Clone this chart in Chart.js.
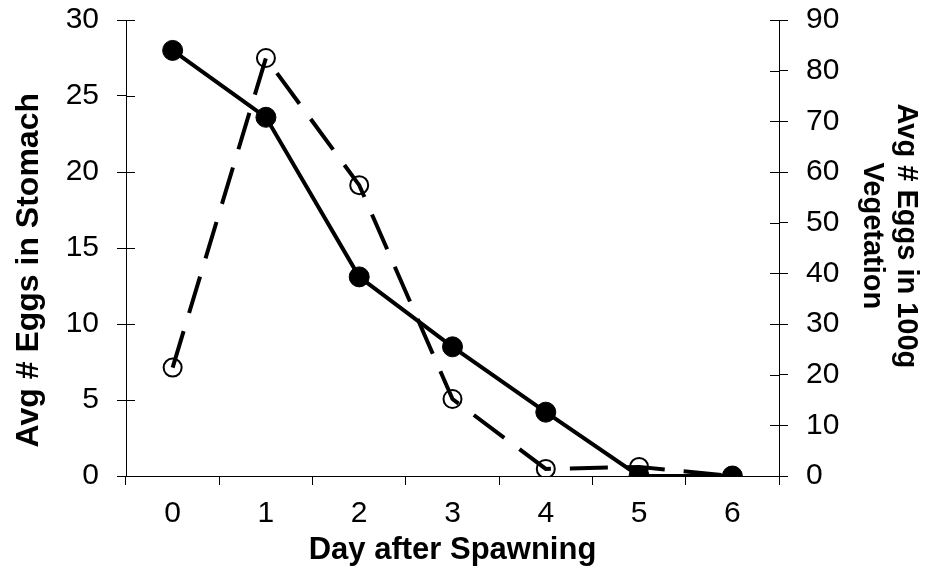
<!DOCTYPE html>
<html>
<head>
<meta charset="utf-8">
<script src="https://cdn.jsdelivr.net/npm/chart.js@4"></script>
<style>
  html, body { margin: 0; padding: 0; background: #fff; }
  canvas { display: block; }
</style>
</head>
<body>
<canvas id="eggChart" width="930" height="571"></canvas>
<script>
// data
const days = ['0', '1', '2', '3', '4', '5', '6'];
const eggsStomach = [28, 23.6, 13.1, 8.5, 4.2, 0, 0];
const eggsVegetation = [21.4, 82.5, 57.4, 15.2, 1.4, 1.8, 0];
const stomachTicks = [0, 5, 10, 15, 20, 25, 30];
const vegetationTicks = [0, 10, 20, 30, 40, 50, 60, 70, 80, 90];

const FONT = 'Liberation Sans, Arial, sans-serif';

// tick marks cross the y axes (Chart.js only draws the outer half)
const innerTicks = {
  id: 'innerTicks',
  beforeDatasetsDraw(chart) {
    const ctx = chart.ctx;
    const area = chart.chartArea;
    ctx.save();
    ctx.strokeStyle = '#000';
    ctx.lineWidth = 1;
    ctx.beginPath();
    chart.scales.y.ticks.forEach(t => {
      const y = Math.round(chart.scales.y.getPixelForValue(t.value)) + 0.5;
      ctx.moveTo(area.left, y);
      ctx.lineTo(area.left + 9, y);
    });
    chart.scales.y1.ticks.forEach(t => {
      const y = Math.round(chart.scales.y1.getPixelForValue(t.value)) + 0.5;
      ctx.moveTo(area.right - 9, y);
      ctx.lineTo(area.right, y);
    });
    ctx.stroke();
    ctx.restore();
  }
};

const ctx = document.getElementById('eggChart').getContext('2d');
new Chart(ctx, {
  type: 'line',
  data: {
    labels: days,
    datasets: [{
      label: 'Stomach',
      data: eggsStomach,
      yAxisID: 'y',
      borderColor: '#000',
      borderWidth: 4,
      backgroundColor: '#000',
      pointRadius: 10,
      pointBackgroundColor: '#000',
      pointBorderColor: '#000',
      pointBorderWidth: 1,
      tension: 0
    }, {
      label: 'Vegetation',
      data: eggsVegetation,
      yAxisID: 'y1',
      borderColor: '#000',
      borderWidth: 4,
      borderDash: [38, 19],
      backgroundColor: 'transparent',
      pointRadius: 9,
      pointBackgroundColor: 'transparent',
      pointBorderColor: '#000',
      pointBorderWidth: 2,
      tension: 0
    }]
  },
  options: {
    responsive: false,
    animation: false,
    layout: { padding: { top: 20, left: 0, right: 0, bottom: 0 } },
    plugins: { legend: { display: false }, tooltip: { enabled: false } },
    scales: {
      x: {
        offset: true,
        grid: { offset: true, drawOnChartArea: false, tickLength: 9, color: '#000' },
        border: { display: true, color: '#000', width: 1 },
        ticks: { color: '#000', padding: 11, font: { family: FONT, size: 30 } },
        title: {
          display: true,
          text: 'Day after Spawning',
          color: '#000',
          padding: { top: 0, bottom: 2 },
          font: { family: FONT, size: 31, weight: 'bold', lineHeight: 1.2 }
        },
        afterFit(scale) { scale.height = 95; }
      },
      y: {
        position: 'left',
        min: 0,
        max: 30,
        afterBuildTicks(scale) { scale.ticks = stomachTicks.map(v => ({ value: v })); },
        grid: { drawOnChartArea: false, tickLength: 9, color: '#000' },
        border: { display: true, color: '#000', width: 1 },
        ticks: { color: '#000', padding: 18, font: { family: FONT, size: 30 } },
        title: {
          display: true,
          // trailing spaces push the title down, as in the original
          text: 'Avg # Eggs in Stomach     ',
          color: '#000',
          padding: { top: 10, bottom: 0 },
          font: { family: FONT, size: 32, weight: 'bold', lineHeight: 1.2 }
        },
        afterFit(scale) {
          scale.width = 126;
          scale.paddingTop = 0;
          scale.paddingBottom = 0;
        }
      },
      y1: {
        position: 'right',
        min: 0,
        max: 90,
        afterBuildTicks(scale) { scale.ticks = vegetationTicks.map(v => ({ value: v })); },
        grid: { drawOnChartArea: false, tickLength: 9, color: '#000' },
        border: { display: true, color: '#000', width: 1 },
        ticks: { color: '#000', padding: 18, font: { family: FONT, size: 30 } },
        title: {
          display: true,
          // trailing spaces lift the title up, as in the original
          text: ['Avg # Eggs in 100g   ', 'Vegetation   '],
          color: '#000',
          padding: { top: 7, bottom: 0 },
          font: { family: FONT, size: 29, weight: 'bold', lineHeight: 1.18 }
        },
        afterFit(scale) {
          scale.width = 151;
          scale.paddingTop = 0;
          scale.paddingBottom = 0;
        }
      }
    }
  },
  plugins: [innerTicks]
});
</script>
</body>
</html>
